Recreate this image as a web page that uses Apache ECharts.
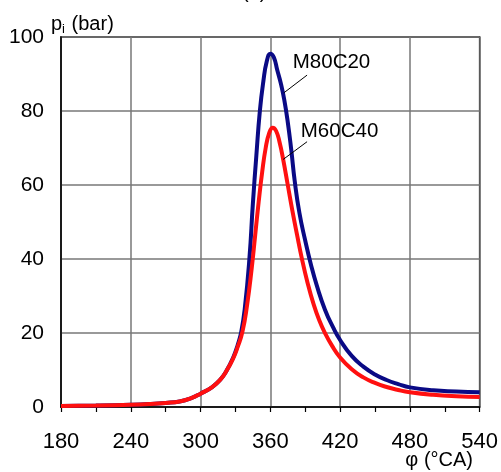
<!DOCTYPE html>
<html>
<head>
<meta charset="utf-8">
<script src="https://cdn.jsdelivr.net/npm/echarts@6/dist/echarts.min.js"></script>
<style>html,body{margin:0;padding:0;background:#fff}#c{width:501px;height:472px}</style>
</head>
<body>
<div id="c"></div>
<script>
// ---- data ----
const xTicks = [180, 240, 300, 360, 420, 480, 540];
const yTicks = [0, 20, 40, 60, 80, 100];

const thetaM80C20 = [180,210,240,256,270,282,292,300,310,317,322,328,332,335,338,342,345,348,351,354,357,360,363,366,369,372,375,378,381,385,390,395,400,407,414,420,430,440,450,460,470,480,500,520,540];
const pM80C20     = [0.3,0.4,0.6,0.8,1.1,1.5,2.4,3.6,5.4,7.4,9.6,13.3,16.8,20.3,26.5,40,55,68,80,88,93.5,95.5,94.5,91,87.5,83,77,69.5,61,52.5,45,38.4,32.8,26.3,21.5,18.1,13.8,10.9,8.8,7.3,6.2,5.3,4.5,4.2,4.0];

const thetaM60C40 = [180,210,240,256,270,282,292,300,310,317,322,328,332,336,340,344,347,350,353,356,359,362,365,368,371,375,379,383,387,392,397,402,407,413,420,430,440,450,460,470,480,500,520,540];
const pM60C40     = [0.3,0.4,0.6,0.8,1.1,1.5,2.4,3.6,5.4,7.4,9.6,13.1,16.3,20.3,27.5,37.5,46.5,55.5,63.5,70,74,75.5,74.6,71.5,67,60,53,46.5,40.3,33.6,28,23.5,20.0,16.6,13.4,10.2,8.0,6.5,5.4,4.6,4.0,3.3,2.9,2.7];

const seriesNames = ['M80C20', 'M60C40'];
// annotation anchors (data space): label point, leader start, leader end
const labelM80C20 = [379.3, 93.2];
const leaderM80C20 = [[391.6, 89.7], [371.6, 84.9]];
const labelM60C40 = [386.2, 74.6];
const leaderM60C40 = [[391.6, 71.7], [371.0, 66.9]];

const FONT = '"Liberation Sans", Arial, sans-serif';

function pairs(xs, ys) { return xs.map((x, i) => [x, ys[i]]); }

function annot(labelPt, leader, text) {
  return {
    markPoint: {
      silent: true,
      symbol: 'circle', symbolSize: 0,
      label: { show: true, position: 'right', distance: 0, formatter: text,
               color: '#000', fontSize: 20.5, fontFamily: FONT },
      data: [{ coord: labelPt }]
    },
    markLine: {
      silent: true, symbol: 'none', animation: false,
      label: { show: false },
      lineStyle: { color: '#000', width: 1, type: 'solid' },
      data: [[{ coord: leader[0] }, { coord: leader[1] }]]
    }
  };
}

const chart = echarts.init(document.getElementById('c'), null, { renderer: 'canvas' });
chart.setOption({
  animation: false,
  backgroundColor: '#fff',
  textStyle: { fontFamily: FONT },
  title: [
    { text: '(a)', left: 242, top: -18, padding: 0,
      textStyle: { fontSize: 20, fontWeight: 'normal', color: '#000', fontFamily: FONT } },
    { text: '{p|p}{s|i}{p| (bar)}', left: 51, top: 13, padding: 0,
      textStyle: { fontWeight: 'normal', color: '#000', fontFamily: FONT,
        rich: { p: { fontSize: 20, color: '#000', fontFamily: FONT, lineHeight: 22 },
                s: { fontSize: 13, color: '#000', fontFamily: FONT, padding: [10, 1, 0, 0], lineHeight: 22 } } } },
    { text: 'φ (°CA)', right: 28, top: 450, padding: 0,
      textStyle: { fontSize: 20, fontWeight: 'normal', color: '#000', fontFamily: FONT } }
  ],
  grid: { left: 61, right: 21, top: 37, bottom: 65, show: true, borderColor: '#000', borderWidth: 1.5, backgroundColor: 'transparent' },
  xAxis: {
    type: 'value', min: xTicks[0], max: xTicks[xTicks.length - 1], interval: 60,
    axisLine: { show: true, lineStyle: { color: '#000', width: 1.5 } },
    axisTick: { show: true, length: 5, lineStyle: { color: '#000', width: 1.2 } },
    minorTick: { show: true, splitNumber: 2, length: 5, lineStyle: { color: '#000', width: 1.2 } },
    axisLabel: { color: '#000', fontSize: 22, fontFamily: FONT, margin: 24 },
    splitLine: { show: true, lineStyle: { color: '#777', width: 1.5 } }
  },
  yAxis: {
    type: 'value', min: yTicks[0], max: yTicks[yTicks.length - 1], interval: 20,
    axisLine: { show: true, lineStyle: { color: '#000', width: 1.5 } },
    axisTick: { show: false },
    axisLabel: { color: '#000', fontSize: 21, fontFamily: FONT, margin: 17 },
    splitLine: { show: true, lineStyle: { color: '#777', width: 1.5 } }
  },
  series: [
    Object.assign({
      name: seriesNames[0], type: 'line', data: pairs(thetaM80C20, pM80C20),
      showSymbol: false, smooth: 0.5,
      lineStyle: { color: '#0a0a85', width: 4 }, itemStyle: { color: '#0a0a85' }, z: 3
    }, annot(labelM80C20, leaderM80C20, seriesNames[0])),
    Object.assign({
      name: seriesNames[1], type: 'line', data: pairs(thetaM60C40, pM60C40),
      showSymbol: false, smooth: 0.5,
      lineStyle: { color: '#ff1010', width: 4 }, itemStyle: { color: '#ff1010' }, z: 4
    }, annot(labelM60C40, leaderM60C40, seriesNames[1]))
  ]
});
</script>
</body>
</html>
